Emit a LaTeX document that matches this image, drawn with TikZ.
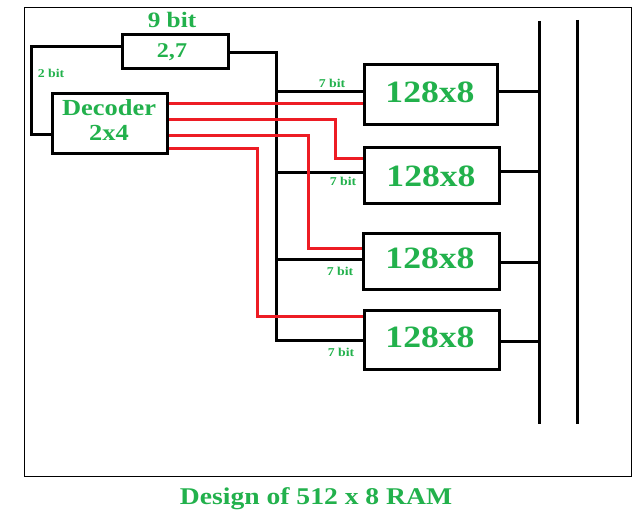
\documentclass[tikz,border=0pt]{standalone}
\usepackage{fontspec}
\setmainfont{Liberation Serif}[FakeStretch=1.15]
\definecolor{pgreen}{RGB}{34,177,76}
\definecolor{pred}{RGB}{237,28,36}
\begin{document}
\begin{tikzpicture}[x=1pt,y=-1pt,
  blk/.style={draw=black,line width=3pt,inner sep=0pt,rectangle},
  wire/.style={draw=black,line width=3pt},
  sel/.style={draw=pred,line width=3pt},
  lbl/.style={text=pgreen,font=\bfseries,inner sep=0pt},
  small/.style={text=pgreen,font=\bfseries\fontsize{12}{13}\selectfont,inner sep=0pt},
  mem/.style={text=pgreen,font=\bfseries\fontsize{31}{33}\selectfont,inner sep=0pt}]
\useasboundingbox (0,0) rectangle (635,516);
\draw[line width=1pt] (24,8) rectangle (631,476);
% boxes
\node[blk,minimum width=106pt,minimum height=34pt] (addr) at (175,52) {};
\node[blk,minimum width=115pt,minimum height=60pt] (dec) at (109.5,124) {};
\node[blk,minimum width=133pt,minimum height=60pt] (m1) at (430.5,95) {};
\node[blk,minimum width=135pt,minimum height=56pt] (m2) at (431.5,176) {};
\node[blk,minimum width=136pt,minimum height=56pt] (m3) at (431,261) {};
\node[blk,minimum width=135pt,minimum height=59pt] (m4) at (431.5,339.5) {};
% texts
\node[lbl,font=\bfseries\fontsize{22}{24}\selectfont] (t9) at (172,20) {9 bit};
\node[lbl,font=\bfseries\fontsize{21}{23}\selectfont] (t27) at (172,52) {2,7};
\node[lbl,font=\bfseries\fontsize{23}{25}\selectfont] (tdec) at (109,108) {Decoder};
\node[lbl,font=\bfseries\fontsize{23}{25}\selectfont] (t24) at (109,133) {2x4};
\node[mem] (tm1) at (430,92) {128x8};
\node[mem] (tm2) at (431,176) {128x8};
\node[mem] (tm3) at (430,258) {128x8};
\node[mem] (tm4) at (430,337) {128x8};
\node[small] (b2) at (51,73) {2 bit};
\node[small] (b71) at (332,83) {7 bit};
\node[small] (b72) at (343,181) {7 bit};
\node[small] (b73) at (340,271) {7 bit};
\node[small] (b74) at (341,352) {7 bit};
\node[lbl,font=\bfseries\fontsize{24}{26}\selectfont] (title) at (316,499) {Design of 512 x 8 RAM};
% 2 bit line
\coordinate (c2a) at (31,47);
\coordinate (c2b) at (31,135);
\draw[wire] (addr.west |- c2a) -- (c2a) -- (c2b) -- (dec.west |- c2b);
% 7 bit address line
\coordinate (c7a) at (276,53);
\coordinate (c7b) at (276,342);
\draw[wire] (addr.east |- c7a) -- (c7a) -- (c7b);
\coordinate (j1) at (276,92);
\coordinate (j2) at (276,173);
\coordinate (j3) at (276,259);
\coordinate (j4) at (276,340);
\draw[wire] (j1) -- (j1 -| m1.west);
\draw[wire] (j2) -- (j2 -| m2.west);
\draw[wire] (j3) -- (j3 -| m3.west);
\draw[wire] (j4) -- (j4 -| m4.west);
% select lines
\coordinate (r1) at (167,104);
\draw[sel] (dec.east |- r1) -- (r1 -| m1.west);
\coordinate (r2a) at (335,120);
\coordinate (r2b) at (335,159);
\draw[sel] (dec.east |- r2a) -- (r2a) -- (r2b) -- (r2b -| m2.west);
\coordinate (r3a) at (308,136);
\coordinate (r3b) at (308,248);
\draw[sel] (dec.east |- r3a) -- (r3a) -- (r3b) -- (r3b -| m3.west);
\coordinate (r4a) at (257,149);
\coordinate (r4b) at (257,316);
\draw[sel] (dec.east |- r4a) -- (r4a) -- (r4b) -- (r4b -| m4.west);
% data bus
\coordinate (busAt) at (539,21);
\coordinate (busAb) at (539,424);
\coordinate (busBt) at (577,20);
\coordinate (busBb) at (577,424);
\draw[wire] (busAt) -- (busAb);
\draw[wire] (busBt) -- (busBb);
\coordinate (o1) at (539,92);
\coordinate (o2) at (539,172);
\coordinate (o3) at (539,262);
\coordinate (o4) at (539,341);
\draw[wire] (o1 -| m1.east) -- (o1);
\draw[wire] (o2 -| m2.east) -- (o2);
\draw[wire] (o3 -| m3.east) -- (o3);
\draw[wire] (o4 -| m4.east) -- (o4);
\end{tikzpicture}
\end{document}
